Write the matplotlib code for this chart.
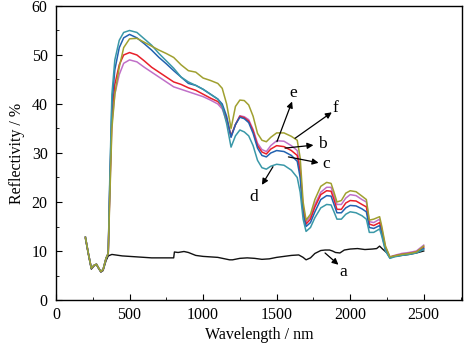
import matplotlib
matplotlib.use("Agg")
import matplotlib.pyplot as plt
from matplotlib.ticker import MultipleLocator

plt.rcParams['font.family'] = ['Liberation Serif', 'DejaVu Serif']

wl = [200, 220, 240, 260, 275, 290, 305, 320, 340, 355, 365, 380, 400, 430, 460, 500, 550,
      600, 650, 700, 750, 800, 850, 900, 950, 1000, 1050, 1100, 1130, 1160, 1190, 1220, 1250,
      1280, 1310, 1340, 1370, 1400, 1430, 1460, 1500, 1550, 1600, 1640, 1660, 1680, 1700, 1730,
      1760, 1800, 1840, 1870, 1890, 1910, 1940, 1970, 2000, 2040, 2080, 2110, 2130, 2160, 2200,
      2215, 2240, 2270, 2300, 2350, 2400, 2450, 2500]

low = [12.8, 9.5, 6.5, 7.1, 7.3, 6.5, 5.8, 6.2, 8.5, 9.5]

b_vals = low + [22, 38, 44, 48, 50, 50.5, 50, 48.8, 47.5, 46.5, 45.5, 44.5, 44, 43.3, 42.8, 42,
                41.2, 40.5, 39.5, 37, 33.5, 35.8, 37.5, 37.2, 36.5, 34.5, 31.5, 30.2, 29.8, 30.8,
                31.5, 31.3, 30.5, 29.5, 26, 18.5, 15.5, 16.5, 19, 21.5, 22.3, 22.2, 20.5, 18.5,
                18.5, 19.8, 20.3, 20.2, 19.5, 19, 15.5, 15.2, 15.8, 14, 10.5, 8.7, 9.0, 9.3, 9.5,
                9.8, 10.8]
c_vals = low + [23, 40, 47, 51.5, 53.5, 54.2, 53.5, 52.3, 51, 49.5, 48.2, 46.8, 45.5, 44.2, 43.8,
                43, 42, 41, 40, 37.5, 33.2, 35.8, 37.3, 37, 36.2, 34, 31, 29.5, 29.2, 30, 30.5,
                30.3, 29.5, 28.3, 25, 17.5, 15, 15.8, 18, 20.5, 21.3, 21.2, 19.5, 17.8, 17.8,
                18.8, 19.3, 19.2, 18.6, 18, 14.8, 14.6, 15.2, 13.5, 10.2, 8.6, 8.9, 9.2, 9.4, 9.7,
                10.5]
d_vals = low + [24, 42, 49, 53, 54.6, 55, 54.6, 53.3, 52, 50.3, 48.8, 47.3, 45.5, 44.5, 43.8, 43,
                42, 41, 39.5, 36, 31.2, 33.5, 34.7, 34.3, 33.5, 31.5, 28.5, 27, 26.7, 27.3, 27.7,
                27.5, 26.5, 25, 22, 16.5, 14, 14.8, 16.8, 18.8, 19.5, 19.4, 18, 16.5, 16.5, 17.5,
                18, 17.8, 17.2, 16.5, 13.8, 13.8, 14.5, 13, 10, 8.5, 8.8, 9.1, 9.3, 9.6, 10.3]
e_vals = low + [21, 36, 42, 46, 48.3, 49, 48.6, 47.5, 46.5, 45.5, 44.5, 43.5, 43, 42.5, 42, 41.5,
                40.8, 40, 39, 36.5, 33.3, 35.8, 37.6, 37.4, 36.8, 34.8, 32, 30.7, 30.3, 31.5,
                32.5, 32.4, 31.5, 30.5, 27, 19, 16, 17, 19.5, 22, 23, 23, 21.3, 19.5, 19.5, 20.8,
                21.5, 21.3, 20.5, 20, 16, 15.8, 16.5, 14.5, 10.8, 8.8, 9.1, 9.5, 9.7, 10.0, 11.2]
f_vals = low + [20, 35, 42, 47.5, 51.5, 53.3, 53.4, 52.6, 51.8, 51, 50.3, 49.5, 48, 46.8, 46.5,
                45.3, 44.8, 44.2, 43.2, 40, 35, 39.5, 40.8, 40.7, 39.8, 37.5, 34, 32.6, 32.3,
                33.2, 34.1, 34.1, 33.4, 32.6, 29, 20, 16.3, 17.5, 20.5, 23.2, 24, 23.8, 22, 20,
                20.3, 21.8, 22.3, 22.1, 21.2, 20.5, 16.3, 16.5, 17, 15, 11, 8.8, 9.0, 9.3, 9.5,
                9.8, 11.0]

wl_a = [200, 220, 240, 260, 275, 290, 305, 320, 340, 355, 380, 450, 550, 650, 750, 800, 805, 830,
        870, 900, 950, 1000, 1100, 1180, 1200, 1250, 1300, 1350, 1400, 1450, 1500, 1550, 1600,
        1650, 1680, 1700, 1730, 1760, 1800, 1830, 1860, 1880, 1900, 1930, 1960, 2000, 2050, 2100,
        2150, 2180, 2200, 2220, 2250, 2270, 2300, 2350, 2400, 2450, 2500]
a_vals = [12.5, 9.3, 6.3, 7.0, 7.2, 6.4, 5.7, 6.0, 8.0, 9.0, 9.3, 9.0, 8.8, 8.6, 8.6, 8.6, 9.8,
          9.7, 9.9, 9.7, 9.1, 8.9, 8.7, 8.2, 8.2, 8.5, 8.6, 8.5, 8.3, 8.4, 8.7, 8.9, 9.1, 9.2,
          8.7, 8.2, 8.6, 9.5, 10.1, 10.2, 10.2, 10.0, 9.7, 9.6, 10.2, 10.4, 10.5, 10.3, 10.4,
          10.5, 11.0, 10.4, 9.6, 8.8, 8.9, 9.1, 9.3, 9.6, 10.0]

colors = {'a': '#111111', 'b': '#e8202a', 'c': '#2262b0', 'd': '#3a98a8', 'e': '#c070c8',
          'f': '#a0a030'}

fig = plt.figure(figsize=(4.73, 3.52), dpi=100)
ax = fig.add_axes([0.1184, 0.1477, 0.8583, 0.8353])

ax.plot(wl_a, a_vals, color=colors['a'], lw=1.0)
ax.plot(wl, e_vals, color=colors['e'], lw=1.1)
ax.plot(wl, b_vals, color=colors['b'], lw=1.1)
ax.plot(wl, c_vals, color=colors['c'], lw=1.1)
ax.plot(wl, d_vals, color=colors['d'], lw=1.1)
ax.plot(wl, f_vals, color=colors['f'], lw=1.1)

arrow = dict(arrowstyle='-|>', color='black', lw=0.9, mutation_scale=9, shrinkA=0, shrinkB=0)
notes = [('e', (1502, 32.3), (1605, 40.5), (1611, 42.3)),
         ('f', (1625, 33.0), (1875, 38.3), (1900, 39.2)),
         ('b', (1557, 31.0), (1750, 31.6), (1810, 31.8)),
         ('c', (1580, 29.2), (1785, 28.0), (1840, 27.8)),
         ('d', (1475, 27.2), (1400, 23.5), (1345, 21.0)),
         ('a', (1829, 9.6), (1920, 7.2), (1950, 5.7))]
for lab, p0, p1, pt in notes:
    ax.annotate('', xy=p1, xytext=p0, arrowprops=arrow)
    ax.text(pt[0], pt[1], lab, fontsize=12.5, ha='center', va='center')

ax.set_xlim(0, 2760)
ax.set_ylim(0, 60)
ax.xaxis.set_major_locator(MultipleLocator(500))
ax.xaxis.set_minor_locator(MultipleLocator(250))
ax.yaxis.set_major_locator(MultipleLocator(10))
ax.yaxis.set_minor_locator(MultipleLocator(5))
ax.tick_params(which='both', direction='in', top=False, right=False, labelsize=11.5)
ax.tick_params(which='major', length=4)
ax.tick_params(which='minor', length=2.5)
ax.tick_params(axis='x', pad=5)
ax.tick_params(axis='y', pad=6)
for s in ax.spines.values():
    s.set_linewidth(1.0)
ax.set_xlabel('Wavelength / nm', fontsize=11.5, labelpad=3)
ax.set_ylabel('Reflectivity / %', fontsize=11.5, labelpad=5)

fig.savefig('out.png', dpi=100)
